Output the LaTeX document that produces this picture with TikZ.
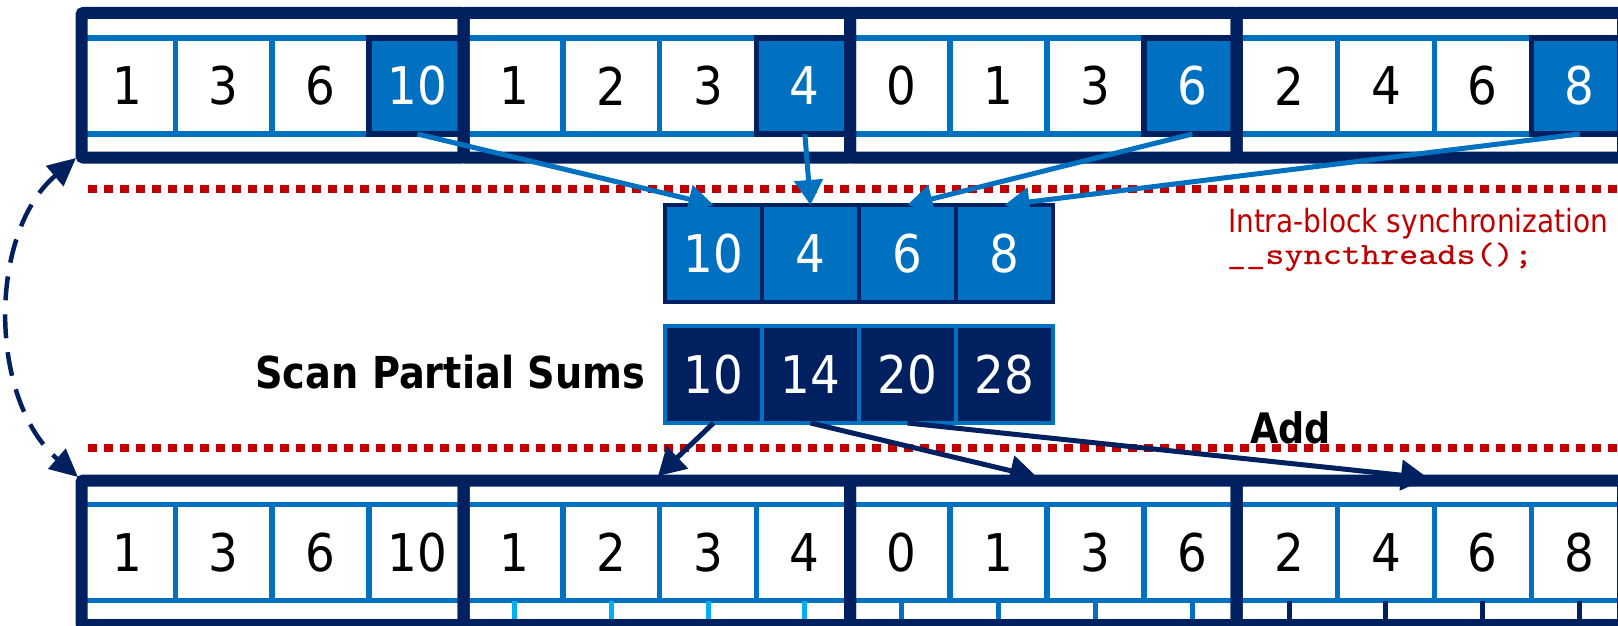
\documentclass[tikz,border=0pt]{standalone}
\usepackage{fontspec}
\setmainfont{DejaVu Sans}
\newfontfamily\digitf[FakeStretch=0.9]{DejaVu Sans}
\newfontfamily\labf[FakeStretch=0.87]{DejaVu Sans}
\newfontfamily\monof[FakeBold=0.3]{lmmono10-regular.otf}
\usetikzlibrary{arrows.meta}
\definecolor{navy}{HTML}{002060}
\definecolor{mblue}{HTML}{0070C0}
\definecolor{cyanb}{HTML}{00B0F0}
\definecolor{dred}{HTML}{C00000}
\newcommand\wfit[2]{\resizebox{#1}{\height}{#2}}
\tikzset{
  cell/.style={draw=mblue, fill=white, line width=5.5pt, minimum width=96.85pt, minimum height=96pt,
    inner sep=0pt, outer sep=0pt, font=\digitf\fontsize{52}{52}\selectfont, text=black},
  hcell/.style={cell, draw=navy, fill=mblue, text=white},
  mcell/.style={draw=navy, fill=mblue, line width=4pt, minimum width=97pt, minimum height=97pt,
    inner sep=0pt, outer sep=0pt, font=\digitf\fontsize{52}{52}\selectfont, text=white},
  pcell/.style={mcell, draw=mblue, fill=navy},
  blk/.style={draw=navy, line width=12pt, minimum height=144.5pt, inner sep=0pt, outer sep=0pt, rounded corners=2pt},
  tick/.style={line width=5pt},
  reddot/.style={draw=dred, line width=8pt, dash pattern=on 9pt off 7pt},
  barrow/.style={draw=mblue, line width=5pt, -{Triangle[length=25pt,width=28pt]}},
  narrow/.style={draw=navy, line width=5pt, -{Triangle[length=27pt,width=30pt]}},
  darc/.style={draw=navy, line width=4.5pt, dash pattern=on 24pt off 14pt,
    {Triangle[length=28pt,width=26pt]}-{Triangle[length=28pt,width=26pt]}},
  lab/.style={inner sep=0pt, outer sep=0pt}
}
\begin{document}
\begin{tikzpicture}[x=1pt,y=-1pt]
\path[use as bounding box] (0,0) rectangle (1618,626);
\clip (0,0) rectangle (1618,626);
\fill[white] (0,0) rectangle (1618,626);

% top row cells
\foreach \v/\i in {1/0,3/1,6/2,1/4,2/5,3/6,0/8,1/9,3/10,2/12,4/13,6/14}
  \node[cell] (t\i) at ({78.5+96.85*(\i+0.5)},86) {\v};
\foreach \v/\i in {10/3,4/7,6/11,8/15}
  \node[hcell] (t\i) at ({78.5+96.85*(\i+0.5)},86) {\v};

% bottom row cells
\foreach \v [count=\i from 0] in {1,3,6,10,1,2,3,4,0,1,3,6,2,4,6,8}
  \node[cell] (b\i) at ({78.5+96.85*(\i+0.5)},552.5) {\v};
\foreach \i in {4,5,6,7} \draw[tick, cyanb] (b\i.south) -- ++(0,20);
\foreach \i in {8,9,10,11} \draw[tick, mblue] (b\i.south) -- ++(0,20);
\foreach \i in {12,13,14,15} \draw[tick, navy] (b\i.south) -- ++(0,20);

% blocks
\node[blk, minimum width=382pt] (tb1) at (272.5,85.25) {};
\node[blk, minimum width=386.5pt] (tb2) at (656.75,85.25) {};
\node[blk, minimum width=386.5pt] (tb3) at (1043.25,85.25) {};
\node[blk, minimum width=386.5pt] (tb4) at (1429.75,85.25) {};
\node[blk, minimum width=382pt] (bb1) at (272.5,552.75) {};
\node[blk, minimum width=386.5pt] (bb2) at (656.75,552.75) {};
\node[blk, minimum width=386.5pt] (bb3) at (1043.25,552.75) {};
\node[blk, minimum width=386.5pt] (bb4) at (1429.75,552.75) {};

% red dotted separators
\coordinate (r1a) at (88,189); \coordinate (r1b) at (1630,189);
\coordinate (r2a) at (88,447.5); \coordinate (r2b) at (1630,447.5);
\draw[reddot] (r1a) -- (r1b);
\draw[reddot] (r2a) -- (r2b);

% middle arrays
\foreach \v [count=\j from 1] in {10,4,6,8}
  \node[mcell] (m\j) at ({665+97*(\j-0.5)},253.5) {\v};
\foreach \v [count=\j from 1] in {10,14,20,28}
  \node[pcell] (p\j) at ({665+97*(\j-0.5)},374.5) {\v};

% labels
\node[lab, anchor=base east, font=\labf\bfseries\fontsize{44}{44}\selectfont] (scan) at (645,388) {Scan Partial Sums};
\node[lab, anchor=base west, font=\labf\bfseries\fontsize{42}{42}\selectfont] (add) at (1250,443) {Add};
\node[lab, anchor=base west, text=dred, font=\fontsize{32}{32}\selectfont] (sync) at (1228,232) {\wfit{380pt}{Intra-block synchronization}};
\node[lab, anchor=base west, text=dred, font=\monof\fontsize{31}{31}\selectfont] (sthr) at (1227,264) {\wfit{306pt}{\_\_syncthreads();}};

% blue arrows
\draw[barrow] (t3.south) -- (m1.north);
\draw[barrow] (t7.south) -- (m2.north);
\draw[barrow] (t11.south) -- (m3.north);
\draw[barrow] (t15.south) -- (m4.north);

% navy arrows
\coordinate (a1) at (658,476);
\coordinate (a2) at (1037,477);
\coordinate (a3) at (1428,478);
\draw[narrow] (p1.south) -- (a1);
\draw[narrow] (p2.south) -- (a2);
\draw[narrow] (p3.south) -- (a3);

% dashed loop arrow
\coordinate (c1) at (76,158);
\coordinate (c2) at (78,477);
\draw[darc] (c1) .. controls (-12,233) and (-12,399) .. (c2);
\end{tikzpicture}
\end{document}
